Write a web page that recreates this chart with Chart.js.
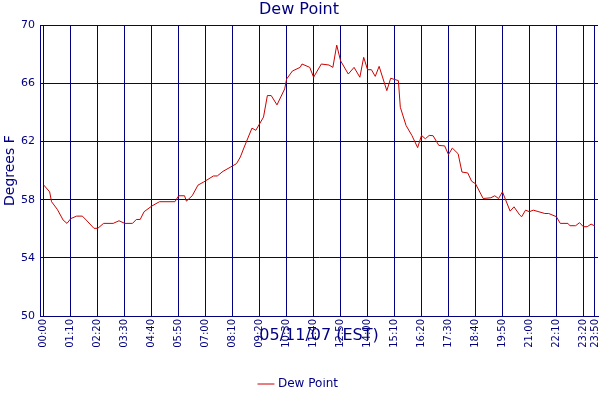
<!DOCTYPE html>
<html><head><meta charset="utf-8">
<script src="https://cdn.jsdelivr.net/npm/chart.js@4"></script>
<style>html,body{margin:0;padding:0;background:#fff}#w{width:600px;height:400px}</style>
</head><body><div id="w"><canvas id="c"></canvas></div>
<script>
const minutes = [0,15,20,35,50,60,70,85,100,110,130,140,155,180,195,210,230,240,250,260,280,300,340,350,365,370,385,400,415,440,450,465,485,500,510,520,540,550,570,580,590,605,625,630,645,665,670,690,700,720,740,750,760,770,790,805,820,830,840,850,860,870,890,900,920,925,940,955,970,980,990,1000,1010,1025,1040,1050,1060,1075,1085,1100,1110,1120,1140,1160,1170,1180,1190,1210,1220,1235,1240,1250,1260,1270,1300,1310,1330,1340,1360,1365,1380,1390,1400,1410,1420,1430];
const dewPoint = [59.0,58.54,57.86,57.33,56.6,56.37,56.7,56.87,56.87,56.6,56.03,56.03,56.37,56.37,56.55,56.37,56.37,56.64,56.64,57.17,57.56,57.86,57.86,58.27,58.27,57.9,58.27,59.0,59.22,59.63,59.63,59.95,60.25,60.48,60.94,61.62,62.92,62.77,63.68,65.16,65.16,64.52,65.62,66.3,66.85,67.1,67.33,67.1,66.42,67.33,67.26,67.1,68.63,67.55,66.64,67.1,66.42,67.79,66.94,66.94,66.48,67.17,65.5,66.35,66.19,64.36,63.1,62.42,61.58,62.42,62.19,62.42,62.4,61.73,61.7,61.1,61.55,61.16,59.9,59.84,59.27,59.1,58.08,58.13,58.27,58.08,58.54,57.21,57.51,56.94,56.83,57.28,57.17,57.28,57.05,57.05,56.83,56.37,56.37,56.21,56.21,56.42,56.14,56.14,56.32,56.19];
const xTicks = [0,70,140,210,280,350,420,490,560,630,700,770,840,910,980,1050,1120,1190,1260,1330,1400,1430];
const yTicks = [50,54,58,62,66,70];
const navy = '#000080';
const fmt = m => String(Math.floor(m/60)).padStart(2,'0')+':'+String(m%60).padStart(2,'0');
new Chart(document.getElementById('c'), {
  type: 'line',
  data: { datasets: [{ label: 'Dew Point', data: minutes.map((m,i)=>({x:m,y:dewPoint[i]})),
    borderColor: '#cc0000', backgroundColor: '#cc0000', borderWidth: 1, pointRadius: 0, tension: 0 }] },
  options: {
    animation: false, responsive: true, maintainAspectRatio: false,
    layout: { padding: { left: 0, right: 2, top: 0, bottom: 0 } },
    plugins: {
      title: { display: true, text: 'Dew Point', color: navy, font: { family: 'DejaVu Sans', size: 16, weight: 'normal' }, padding: { top: 0, bottom: 6 } },
      legend: { position: 'bottom', labels: { color: navy, font: { family: 'DejaVu Sans', size: 12 }, usePointStyle: true, pointStyle: 'line', boxWidth: 14, padding: 0 } },
      tooltip: { enabled: false }
    },
    scales: {
      x: { type: 'linear', min: -10, max: 1438,
        afterBuildTicks: s => { s.ticks = xTicks.map(v => ({ value: v })); },
        afterFit: s => { s.height = 62; s.paddingLeft = 0; s.paddingRight = 0; },
        ticks: { color: navy, autoSkip: false, maxRotation: 90, minRotation: 90, padding: 3, font: { family: 'DejaVu Sans', size: 10 }, callback: v => fmt(v) },
        grid: { color: navy, lineWidth: 1, drawTicks: false },
        border: { color: navy },
        title: { display: true, text: '05/11/07 (EST)', color: navy, font: { family: 'DejaVu Sans', size: 16 }, padding: { top: 4, bottom: 33 } }
      },
      y: { min: 50, max: 70,
        afterBuildTicks: s => { s.ticks = yTicks.map(v => ({ value: v })); },
        afterFit: s => { s.width = 40; s.paddingTop = 0; s.paddingBottom = 0; },
        ticks: { color: navy, padding: 5, font: { family: 'DejaVu Sans', size: 11 } },
        grid: { color: navy, lineWidth: 1, drawTicks: false },
        border: { color: navy },
        title: { display: true, text: 'Degrees F', color: navy, font: { family: 'DejaVu Sans', size: 14 }, padding: 2 }
      }
    }
  }
});
</script></body></html>
